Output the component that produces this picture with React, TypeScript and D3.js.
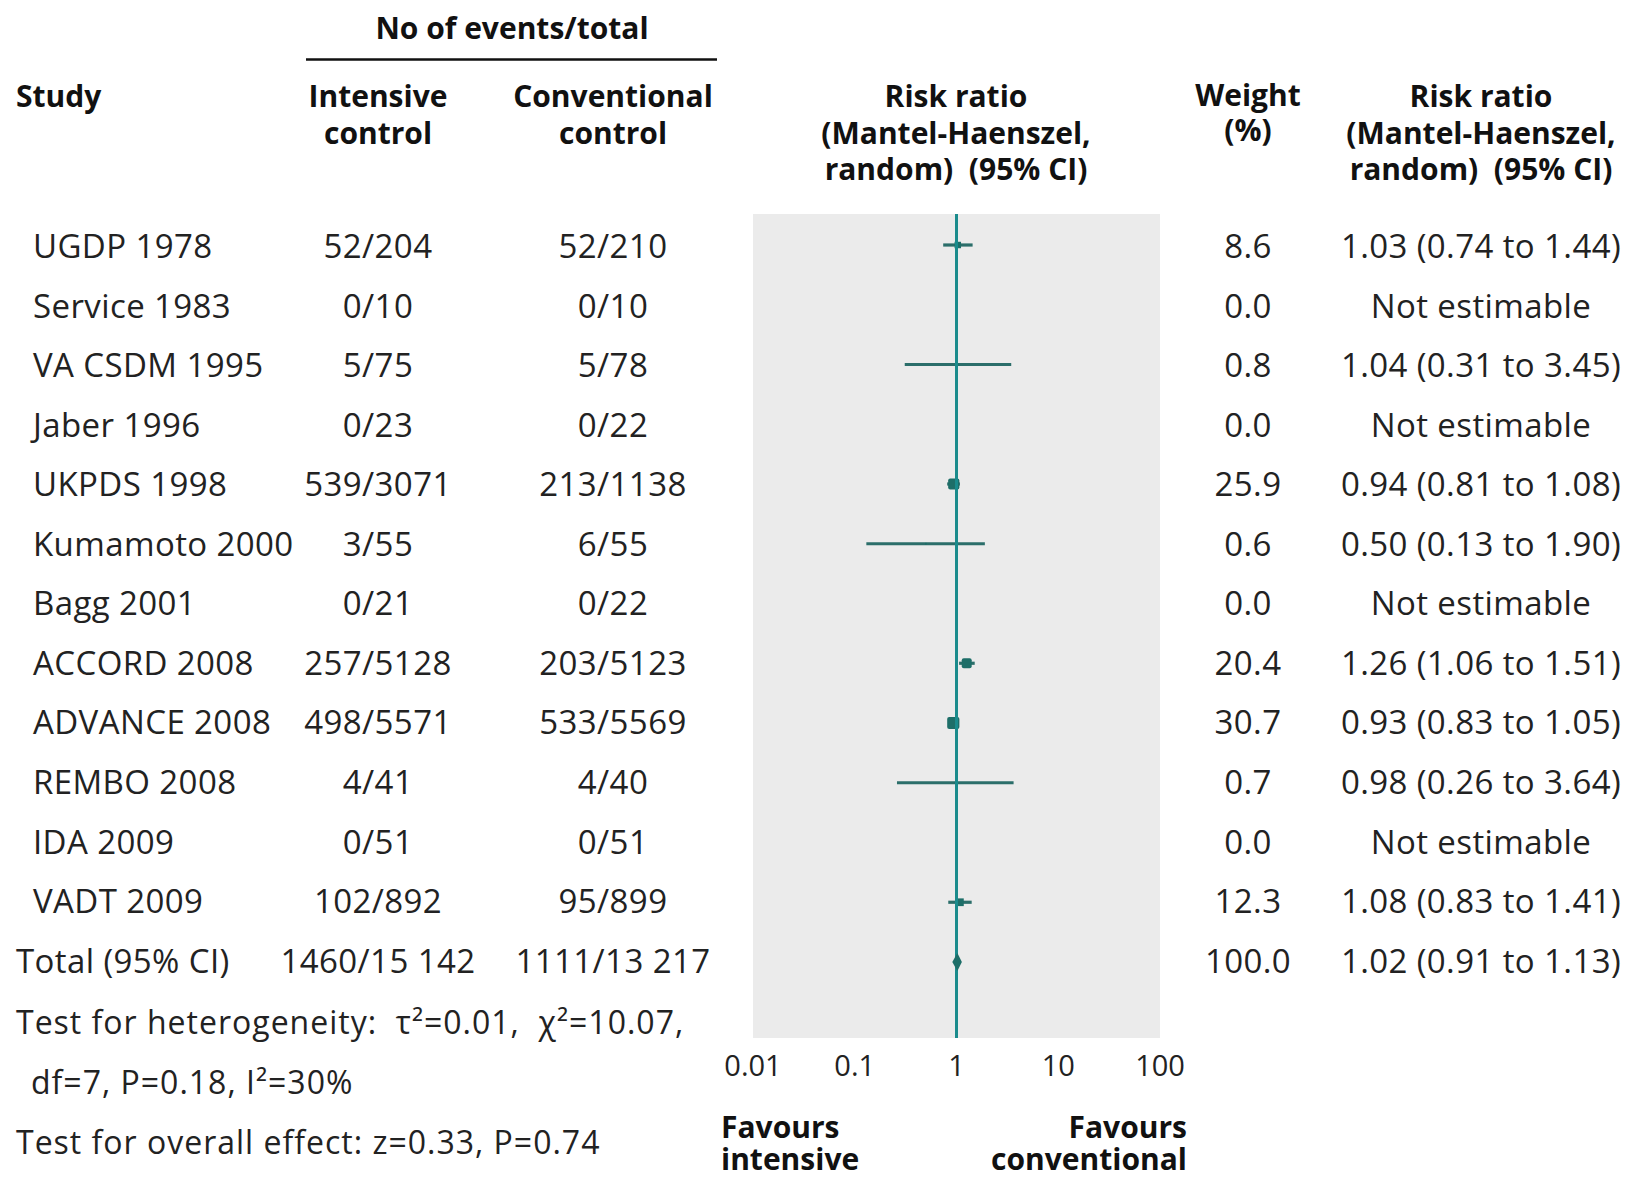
import * as d3 from 'd3';
import React from 'react';

// study rows
const studies = ['UGDP 1978', 'Service 1983', 'VA CSDM 1995', 'Jaber 1996', 'UKPDS 1998', 'Kumamoto 2000',
  'Bagg 2001', 'ACCORD 2008', 'ADVANCE 2008', 'REMBO 2008', 'IDA 2009', 'VADT 2009'];
const intensive = ['52/204', '0/10', '5/75', '0/23', '539/3071', '3/55', '0/21', '257/5128', '498/5571', '4/41', '0/51', '102/892'];
const conventional = ['52/210', '0/10', '5/78', '0/22', '213/1138', '6/55', '0/22', '203/5123', '533/5569', '4/40', '0/51', '95/899'];
const weights = [8.6, 0.0, 0.8, 0.0, 25.9, 0.6, 0.0, 20.4, 30.7, 0.7, 0.0, 12.3];
const rr = [1.03, null, 1.04, null, 0.94, 0.50, null, 1.26, 0.93, 0.98, null, 1.08];
const lower = [0.74, null, 0.31, null, 0.81, 0.13, null, 1.06, 0.83, 0.26, null, 0.83];
const upper = [1.44, null, 3.45, null, 1.08, 1.90, null, 1.51, 1.05, 3.64, null, 1.41];

const total = { label: 'Total (95% CI)', intensive: '1460/15 142', conventional: '1111/13 217', weight: 100.0, rr: 1.02, lower: 0.91, upper: 1.13 };

const ticks = [0.01, 0.1, 1, 10, 100];
const tickLabels = ['0.01', '0.1', '1', '10', '100'];

const W = 1638;
const H = 1178;
const FONT = "'Open Sans', 'Noto Sans', sans-serif";
const TXT = '#222';
const NB = '\u00A0';

function fmt(v: number) {
  return v.toFixed(2);
}

export default function App() {
  const x = d3.scaleLog().domain([0.01, 100]).range([753, 1160]);
  const y = d3.scaleLinear().domain([0, 12]).range([245, 962]);
  const size = (w: number) => Math.sqrt(w) * 2.2;

  const boxTop = 214;
  const boxBottom = 1038;

  const rowText = (i: number) => y(i) + 13 - i * 0.2;

  const diamond = d3.line<[number, number]>()([
    [x(total.lower), y(12)],
    [x(total.rr), y(12) - 9],
    [x(total.upper), y(12)],
    [x(total.rr), y(12) + 9],
    [x(total.lower), y(12)],
  ]);

  return (
    <div style={{ position: 'absolute', left: 0, top: 0 }}>
      <svg width={W} height={H} style={{ display: 'block', background: '#fff' }} fontFamily={FONT}>
        {/* headers */}
        <g fontWeight={700} fontSize={30} fill="#111">
          <text x={512} y={39} textAnchor="middle">No of events/total</text>
          <line x1={306} x2={717} y1={59.5} y2={59.5} stroke="#111" strokeWidth={2.5} />
          <text x={16} y={107}>Study</text>
          <text x={378} y={107} textAnchor="middle">Intensive</text>
          <text x={378} y={144} textAnchor="middle">control</text>
          <text x={613} y={107} textAnchor="middle">Conventional</text>
          <text x={613} y={144} textAnchor="middle">control</text>
          <text x={956} y={107} textAnchor="middle">Risk ratio</text>
          <text x={956} y={144} textAnchor="middle">(Mantel-Haenszel,</text>
          <text x={956} y={180} textAnchor="middle">{`random)${NB}${NB}(95% CI)`}</text>
          <text x={1248} y={106} textAnchor="middle">Weight</text>
          <text x={1248} y={141} textAnchor="middle">(%)</text>
          <text x={1481} y={107} textAnchor="middle">Risk ratio</text>
          <text x={1481} y={144} textAnchor="middle">(Mantel-Haenszel,</text>
          <text x={1481} y={180} textAnchor="middle">{`random)${NB}${NB}(95% CI)`}</text>
        </g>

        {/* plot background */}
        <rect x={x(0.01)} y={boxTop} width={x(100) - x(0.01)} height={boxBottom - boxTop} fill="#ebebeb" />

        {/* study rows */}
        <g fontSize={33} fill={TXT} letterSpacing={0.4}>
          {studies.map((s, i) => (
            <g key={s}>
              <text x={33} y={rowText(i)}>{s}</text>
              <text x={378} y={rowText(i)} textAnchor="middle">{intensive[i]}</text>
              <text x={613} y={rowText(i)} textAnchor="middle">{conventional[i]}</text>
              <text x={1248} y={rowText(i)} textAnchor="middle">{weights[i].toFixed(1)}</text>
              <text x={1481} y={rowText(i)} textAnchor="middle">
                {rr[i] === null ? 'Not estimable' : `${fmt(rr[i] as number)} (${fmt(lower[i] as number)} to ${fmt(upper[i] as number)})`}
              </text>
            </g>
          ))}
          <text x={16} y={rowText(12)}>{total.label}</text>
          <text x={378} y={rowText(12)} textAnchor="middle">{total.intensive}</text>
          <text x={613} y={rowText(12)} textAnchor="middle">{total.conventional}</text>
          <text x={1248} y={rowText(12)} textAnchor="middle">{total.weight.toFixed(1)}</text>
          <text x={1481} y={rowText(12)} textAnchor="middle">
            {`${fmt(total.rr)} (${fmt(total.lower)} to ${fmt(total.upper)})`}
          </text>
        </g>

        {/* CI lines and markers */}
        <g>
          {studies.map((s, i) => {
            if (rr[i] === null) return null;
            const cx = x(rr[i] as number);
            const sz = size(weights[i]);
            return (
              <g key={s}>
                <line x1={x(lower[i] as number)} x2={x(upper[i] as number)} y1={y(i)} y2={y(i)}
                  stroke="#2b6e6a" strokeWidth={3.2} />
                <rect x={cx - sz / 2} y={y(i) - sz / 2} width={sz} height={sz} fill="#1d6e68" rx={sz > 8 ? 2 : 0} />
              </g>
            );
          })}
        </g>

        {/* line of no effect */}
        <line x1={x(1)} x2={x(1)} y1={boxTop} y2={boxBottom} stroke="#1a8b8c" strokeWidth={3} />

        {/* overall effect */}
        <path d={diamond as string} fill="#1d6e68" />

        {/* axis labels */}
        <g fontSize={29} fill={TXT} textAnchor="middle">
          {ticks.map((t, i) => (
            <text key={t} x={x(t)} y={1076}>{tickLabels[i]}</text>
          ))}
        </g>
        <g fontSize={30} fontWeight={700} fill="#111">
          <text x={721} y={1138}>Favours</text>
          <text x={721} y={1170}>intensive</text>
          <text x={1187} y={1138} textAnchor="end">Favours</text>
          <text x={1187} y={1170} textAnchor="end">conventional</text>
        </g>

        {/* tests */}
        <g fontSize={32} fill={TXT} letterSpacing={1}>
          <text x={16} y={1034}>{`Test for heterogeneity:${NB} τ²=0.01,${NB} χ²=10.07,`}</text>
          <text x={31} y={1094}>df=7, P=0.18, I²=30%</text>
          <text x={16} y={1154}>Test for overall effect: z=0.33, P=0.74</text>
        </g>
      </svg>
    </div>
  );
}
